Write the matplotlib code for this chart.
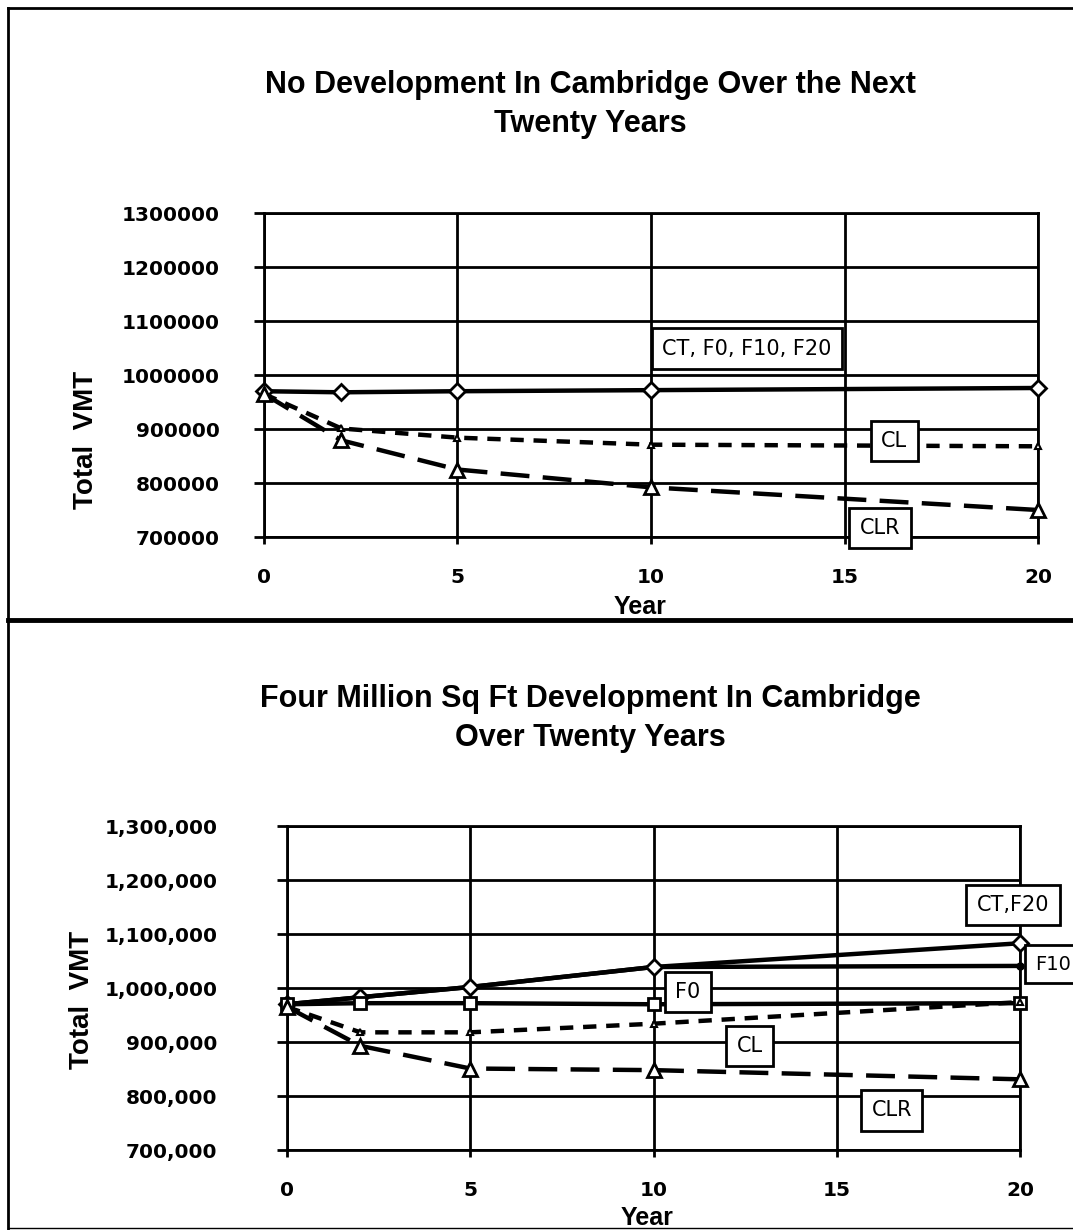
import matplotlib
matplotlib.use("Agg")
from matplotlib import pyplot as plt
from matplotlib.lines import Line2D
from matplotlib.ticker import FuncFormatter

plt.rcParams['font.family'] = ['DejaVu Sans']

years = [0, 2, 5, 10, 20]

# No development scenario
nd_ct = [970000, 968000, 970000, 972000, 976000]
nd_cl = [965000, 901000, 884000, 871000, 868000]
nd_clr = [965000, 879000, 825000, 792000, 750000]

# Four million sq ft development scenario
dev_ct = [970000, 983000, 1002000, 1039000, 1083000]
dev_f10 = [970000, 983000, 1002000, 1039000, 1041000]
dev_f0 = [970000, 972000, 972000, 970000, 972000]
dev_cl = [965000, 918000, 918000, 934000, 974000]
dev_clr = [965000, 893000, 851000, 848000, 831000]

y_ticks = [700000, 800000, 900000, 1000000, 1100000, 1200000, 1300000]
x_ticks = [0, 5, 10, 15, 20]

fig = plt.figure(figsize=(10.73, 12.3), dpi=100)

HEAD = ['Liberation Sans', 'DejaVu Sans']

LW = 3.2
solid = dict(color='black', lw=LW, linestyle='-', clip_on=False, zorder=4)
short_dash = dict(color='black', lw=LW, dashes=(3, 2.2), clip_on=False, zorder=4)
long_dash = dict(color='black', lw=LW, dashes=(6.5, 3), clip_on=False, zorder=4)
tri = dict(marker='^', markersize=10, markerfacecolor='white',
           markeredgecolor='black', markeredgewidth=2)
tri_small = dict(marker='^', markersize=5, markerfacecolor='white',
                 markeredgecolor='black', markeredgewidth=1.5)
diamond = dict(marker='D', markersize=8, markerfacecolor='white',
               markeredgecolor='black', markeredgewidth=2)
square = dict(marker='s', markersize=9, markerfacecolor='white',
              markeredgecolor='black', markeredgewidth=2)


def style_axes(ax, fmt, ypad):
    ax.set_xlim(0, 20)
    ax.set_ylim(700000, 1300000)
    ax.set_xticks(x_ticks)
    ax.set_yticks(y_ticks)
    ax.yaxis.set_major_formatter(FuncFormatter(fmt))
    ax.grid(True, color='black', lw=2)
    for s in ax.spines.values():
        s.set_linewidth(2)
    ax.tick_params(axis='y', direction='out', length=7, width=2, pad=ypad,
                   labelsize=14.5)
    ax.tick_params(axis='x', direction='out', length=5, width=2, pad=17,
                   labelsize=14.5)
    for lbl in ax.get_xticklabels() + ax.get_yticklabels():
        lbl.set_fontweight('bold')
    ax.set_axisbelow(True)


def box(ax, x, y, text, ha='center', size=15):
    ax.text(x, y, text, ha=ha, va='center', fontsize=size, clip_on=False,
            zorder=6,
            bbox=dict(boxstyle='square,pad=0.5', fc='white', ec='black', lw=2))


def labels(ax, ylab_xy, xlab_xy):
    ax.set_ylabel('Total  VMT', fontsize=20, fontweight='bold', family=HEAD,
                  va='center')
    ax.yaxis.set_label_coords(ylab_xy[0] / 1073, 1 - ylab_xy[1] / 1230,
                              transform=fig.transFigure)
    ax.set_xlabel('Year', fontsize=18, fontweight='bold', family=HEAD,
                  va='center')
    ax.xaxis.set_label_coords(xlab_xy[0] / 1073, 1 - xlab_xy[1] / 1230,
                              transform=fig.transFigure)


# Top chart
ax1 = fig.add_axes([0.246, 0.5634, 0.7214, 0.2634])
style_axes(ax1, lambda v, p: f'{int(v)}', ypad=25)
ax1.plot(years, nd_ct, **solid, **diamond)
ax1.plot(years, nd_cl, **short_dash, **tri_small)
ax1.plot(years, nd_clr, **long_dash, **tri)
box(ax1, 12.48, 1049000, 'CT, F0, F10, F20')
box(ax1, 16.28, 877800, 'CL')
box(ax1, 15.92, 716700, 'CLR')
labels(ax1, (86, 440), (640, 607))
fig.text(0.55, 0.915, 'No Development In Cambridge Over the Next\nTwenty Years',
         ha='center', va='center', fontsize=22, fontweight='bold',
         family=HEAD, linespacing=1.41)

# Bottom chart
ax2 = fig.add_axes([0.2675, 0.065, 0.6831, 0.2634])
style_axes(ax2, lambda v, p: f'{int(v):,}', ypad=43)
ax2.plot(years, dev_f10, **solid)
ax2.plot([20], [dev_f10[-1]], 'o', color='black', markersize=5, zorder=5,
         clip_on=False)
ax2.plot(years, dev_ct, **solid, **diamond)
ax2.plot(years, dev_f0, **solid, **square)
ax2.plot(years, dev_cl, **short_dash, **tri_small)
ax2.plot(years, dev_clr, **long_dash, **tri)
box(ax2, 19.81, 1153700, 'CT,F20')
box(ax2, 20.4, 1044400, 'F10', ha='left', size=14)
box(ax2, 10.94, 992600, 'F0')
box(ax2, 12.63, 892600, 'CL')
box(ax2, 16.5, 774000, 'CLR')
labels(ax2, (82, 1000), (647, 1218))
fig.text(0.55, 0.4159, 'Four Million Sq Ft Development In Cambridge\nOver Twenty Years',
         ha='center', va='center', fontsize=22, fontweight='bold',
         family=HEAD, linespacing=1.41)

# Page frame
fig.add_artist(Line2D([0.0075, 0.0075], [0.0, 0.9935], color='black', lw=2))
fig.add_artist(Line2D([0.0075, 1.0], [0.9935, 0.9935], color='black', lw=2))
fig.add_artist(Line2D([0.0075, 1.0], [0.496, 0.496], color='black', lw=3.5))
fig.add_artist(Line2D([0.0075, 1.0], [0.002, 0.002], color='black', lw=1))

fig.savefig('out.png', dpi=100)
